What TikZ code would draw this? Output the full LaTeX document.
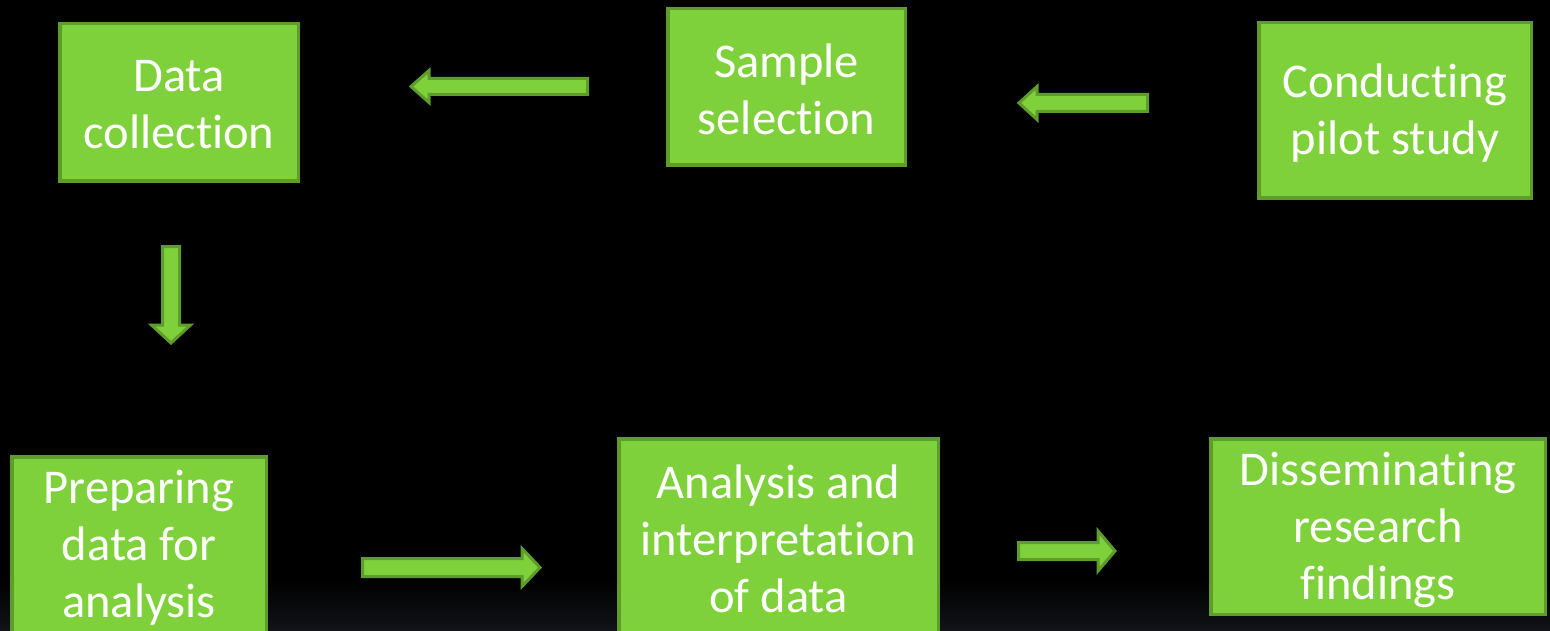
\documentclass[tikz,border=0pt]{standalone}
\usepackage{fontspec}
\setmainfont{Carlito}[Ligatures=NoCommon]
\definecolor{boxfill}{HTML}{7ED13B}
\definecolor{boxline}{HTML}{5E9C2C}
\definecolor{bgbottom}{HTML}{121419}
\newcommand{\harr}[6]{\draw[arr] (#1,#4-#5) -- (#3,#4-#5) -- (#3,#4-#6) -- (#2,#4) -- (#3,#4+#6) -- (#3,#4+#5) -- (#1,#4+#5) -- cycle;}
\newcommand{\varr}[6]{\draw[arr] (#4-#5,#1) -- (#4-#5,#3) -- (#4-#6,#3) -- (#4,#2) -- (#4+#6,#3) -- (#4+#5,#3) -- (#4+#5,#1) -- cycle;}
\begin{document}
\begin{tikzpicture}[x=1pt,y=-1pt,
  box/.style={draw=boxline, fill=boxfill, line width=3.5pt, inner sep=0pt},
  lbl/.style={text=white, align=center, font=\fontsize{48.5}{57}\selectfont, inner sep=0pt},
  arr/.style={draw=boxline, fill=boxfill, line width=3pt, line join=miter}]
\useasboundingbox (0,0) rectangle (1550,631);
\fill[black] (0,0) rectangle (1550,631);
\shade[top color=black, bottom color=bgbottom] (0,580) rectangle (1550,631);
\node[box, minimum width=238.5pt, minimum height=157.5pt] (dc) at (179,102.5) {};
\node[lbl] (dct) at (179,104.5) {Data\\collection};
\node[box, minimum width=237.5pt, minimum height=156.5pt] (ss) at (786.5,87) {};
\node[lbl] (sst) at (786.5,89.5) {Sample\\selection};
\node[box, minimum width=272.5pt, minimum height=175.5pt] (cp) at (1395,110.5) {};
\node[lbl] (cpt) at (1395,113) {Conducting\\pilot study};
\node[box, minimum width=254.5pt, minimum height=177.5pt] (pd) at (139,545.5) {};
\node[lbl] (pdt) at (139,547.5) {Preparing\\data for\\analysis};
\node[box, minimum width=319.5pt, minimum height=196.5pt] (ai) at (778.5,537) {};
\node[lbl] (ait) at (778.5,539) {Analysis and\\interpretation\\of data};
\node[box, minimum width=334.5pt, minimum height=175.5pt] (dr) at (1378,526.5) {};
\node[lbl] (drt) at (1378,529.5) {Disseminating\\research\\findings};
\harr{587.5}{411}{429}{86.5}{8}{16}
\harr{1147.5}{1019}{1037}{103}{8.5}{16.5}
\varr{246.5}{343}{325}{171}{8.5}{19.5}
\harr{362.5}{540}{522}{567.5}{9}{19}
\harr{1018.5}{1115}{1098}{551}{8.5}{20}
\end{tikzpicture}
\end{document}
